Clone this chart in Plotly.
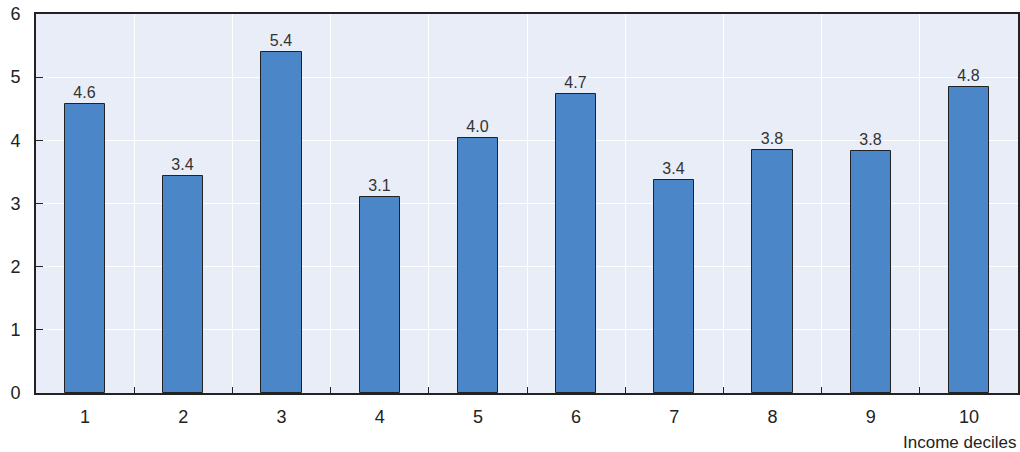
import plotly.graph_objects as go

categories = ["1", "2", "3", "4", "5", "6", "7", "8", "9", "10"]
values = [4.57, 3.44, 5.40, 3.11, 4.03, 4.73, 3.37, 3.84, 3.83, 4.84]
y_ticks = [0, 1, 2, 3, 4, 5, 6]
x_title = "Income deciles"

FONT = "Liberation Sans Narrow, Arial Narrow, sans-serif"
xpos = list(range(1, len(categories) + 1))

fig = go.Figure()
fig.add_trace(go.Bar(
    x=xpos, y=values, width=0.41,
    marker=dict(color="#4a86c8", line=dict(color="#222222", width=1)),
    text=[f"{v:.1f}" for v in values], textposition="outside",
    textfont=dict(family=FONT, size=16, color="#333333"),
    cliponaxis=False, hoverinfo="x+y",
))
# helper trace on xaxis2 for boundary gridlines/ticks
fig.add_trace(go.Scatter(x=[0.5], y=[0], xaxis="x2", mode="markers",
                         marker=dict(opacity=0), showlegend=False, hoverinfo="skip"))

fig.update_layout(
    width=1020, height=452,
    margin=dict(l=36, r=2, t=14, b=59, autoexpand=False),
    paper_bgcolor="white", plot_bgcolor="#e9edf7",
    showlegend=False, bargap=0,
    font=dict(family=FONT, size=17, color="#222222"),
    xaxis=dict(range=[0.5, 10.5], tickvals=xpos, ticktext=categories,
               ticks="", showgrid=False, showline=True, linecolor="#222222",
               linewidth=2, mirror=True, zeroline=False, automargin=False,
               ticklabelstandoff=6,
               tickfont=dict(family=FONT, size=18, color="#222222")),
    xaxis2=dict(range=[0.5, 10.5], overlaying="x", side="bottom",
                tickvals=[i + 0.5 for i in range(1, 10)], showticklabels=False,
                ticks="inside", ticklen=6, tickcolor="#222222", tickwidth=1,
                showgrid=True, gridcolor="white", gridwidth=1, showline=False,
                zeroline=False, automargin=False),
    yaxis=dict(range=[0, 6], tickvals=y_ticks, ticks="inside", ticklen=7,
               tickcolor="#222222", showgrid=True, gridcolor="white", gridwidth=1,
               showline=True, linecolor="#222222", linewidth=2, mirror=True,
               zeroline=False, ticklabelstandoff=10, automargin=False,
               tickfont=dict(family=FONT, size=18, color="#222222")),
    annotations=[dict(text=x_title, xref="paper", yref="paper", x=1, y=0,
                      xanchor="right", yanchor="top", yshift=-38, showarrow=False,
                      font=dict(family=FONT, size=17, color="#222222"))],
)

fig.write_html("out.html", config={"displayModeBar": False},
               post_script="document.body.style.margin='0';document.body.style.overflow='hidden';")
